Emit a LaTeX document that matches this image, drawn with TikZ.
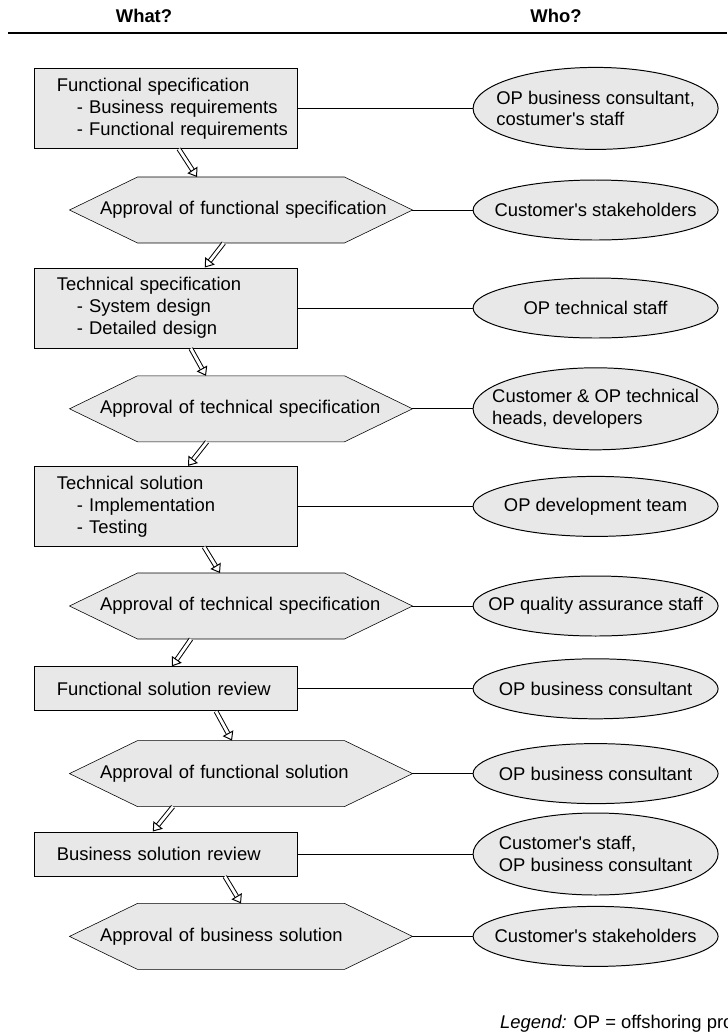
\documentclass[tikz,border=0pt]{standalone}
\usepackage{fontspec}
\setmainfont{Liberation Sans}
\usetikzlibrary{shapes.geometric,arrows.meta,backgrounds}
\definecolor{shade}{gray}{0.91}

\begin{document}
\begin{tikzpicture}[
  font=\fontsize{13.1}{15.6}\selectfont,
  line width=0.7pt,
  task/.style={draw, fill=shade, rectangle, minimum height=2cm, text width=6.575cm, inner xsep=0pt, inner ysep=0pt, align=left, execute at begin node={\leftskip=0.55cm\relax}},
  task1/.style={task, minimum height=1.1cm},
  approval/.style={rectangle, minimum height=1.625cm, text width=8.55cm, inner xsep=0pt, inner ysep=0pt, align=left, execute at begin node={\leftskip=0.75cm\relax}},
  who/.style={draw, fill=shade, ellipse, minimum width=6.125cm, minimum height=1.5cm, inner xsep=-1.5cm, inner ysep=-0.1cm, align=left},
  who2/.style={who, minimum height=2.05cm},
  flow/.style={double, double distance=2pt, -{Triangle[open, length=6pt, width=8.5pt, line width=0.7pt]}},
  head/.style={font=\fontsize{13.1}{15.6}\selectfont\bfseries}
]
\useasboundingbox (0,0) rectangle (18.175,-25.85);

\node[head] (what) at (3.6,-0.4) {What?};
\node[head] (who) at (13.9,-0.4) {Who?};
\draw[line width=1.8pt] (0.2,-0.825) -- (18.175,-0.825);

\node[task] (T1) at (4.16,-2.71) {Functional specification\\\hspace*{0.5cm}- Business requirements\\\hspace*{0.5cm}- Functional requirements};
\node[approval] (P1) at (6.025,-5.25) {Approval of functional specification};
\node[task] (T2) at (4.16,-7.7) {Technical specification\\\hspace*{0.5cm}- System design\\\hspace*{0.5cm}- Detailed design};
\node[approval] (P2) at (6.025,-10.22) {Approval of technical specification};
\node[task] (T3) at (4.16,-12.66) {Technical solution\\\hspace*{0.5cm}- Implementation\\\hspace*{0.5cm}- Testing};
\node[approval] (P3) at (6.025,-15.15) {Approval of technical specification};
\node[task1] (T4) at (4.16,-17.22) {Functional solution review};
\node[approval] (P4) at (6.025,-19.34) {Approval of functional solution};
\node[task1] (T5) at (4.16,-21.35) {Business solution review};
\node[approval] (P5) at (6.025,-23.41) {Approval of business solution};

\begin{scope}[on background layer]
\foreach \p in {P1,P2,P3,P4,P5}
  \draw[fill=shade] (\p.west) -- ([xshift=1.7cm]\p.north west) -- ([xshift=-1.7cm]\p.north east) -- (\p.east) -- ([xshift=-1.7cm]\p.south east) -- ([xshift=1.7cm]\p.south west) -- cycle;
\end{scope}

\node[who2] (W1) at (14.89,-2.71) {OP business consultant,\\costumer\textquotesingle s staff};
\node[who] (W2) at (14.89,-5.25) {Customer\textquotesingle s stakeholders};
\node[who] (W3) at (14.89,-7.7) {OP technical staff};
\node[who2] (W4) at (14.89,-10.22) {Customer \& OP technical\\heads, developers};
\node[who] (W5) at (14.89,-12.66) {OP development team};
\node[who] (W6) at (14.89,-15.15) {OP quality assurance staff};
\node[who] (W7) at (14.89,-17.22) {OP business consultant};
\node[who] (W8) at (14.89,-19.34) {OP business consultant};
\node[who2] (W9) at (14.89,-21.35) {Customer\textquotesingle s staff,\\OP business consultant};
\node[who] (W10) at (14.89,-23.41) {Customer\textquotesingle s stakeholders};

\draw (T1) -- (W1);
\draw (P1) -- (W2);
\draw (T2) -- (W3);
\draw (P2) -- (W4);
\draw (T3) -- (W5);
\draw (P3) -- (W6);
\draw (T4) -- (W7);
\draw (P4) -- (W8);
\draw (T5) -- (W9);
\draw (P5) -- (W10);

\draw[flow] ([xshift=0.31cm]T1.south) -- ([xshift=-1.1cm]P1.north);
\draw[flow] ([xshift=-0.43cm]P1.south) -- ([xshift=0.96cm]T2.north);
\draw[flow] ([xshift=0.61cm]T2.south) -- ([xshift=-0.875cm]P2.north);
\draw[flow] ([xshift=-0.85cm]P2.south) -- ([xshift=0.54cm]T3.north);
\draw[flow] ([xshift=0.94cm]T3.south) -- ([xshift=-0.525cm]P3.north);
\draw[flow] ([xshift=-1.25cm]P3.south) -- ([xshift=0.14cm]T4.north);
\draw[flow] ([xshift=1.24cm]T4.south) -- ([xshift=-0.225cm]P4.north);
\draw[flow] ([xshift=-1.7cm]P4.south) -- ([xshift=-0.34cm]T5.north);
\draw[flow] ([xshift=1.46cm]T5.south) -- (P5.north);

\node[anchor=base west] (legend) at (12.375,-25.7) {\textit{Legend:} OP = offshoring pro};
\end{tikzpicture}
\end{document}
